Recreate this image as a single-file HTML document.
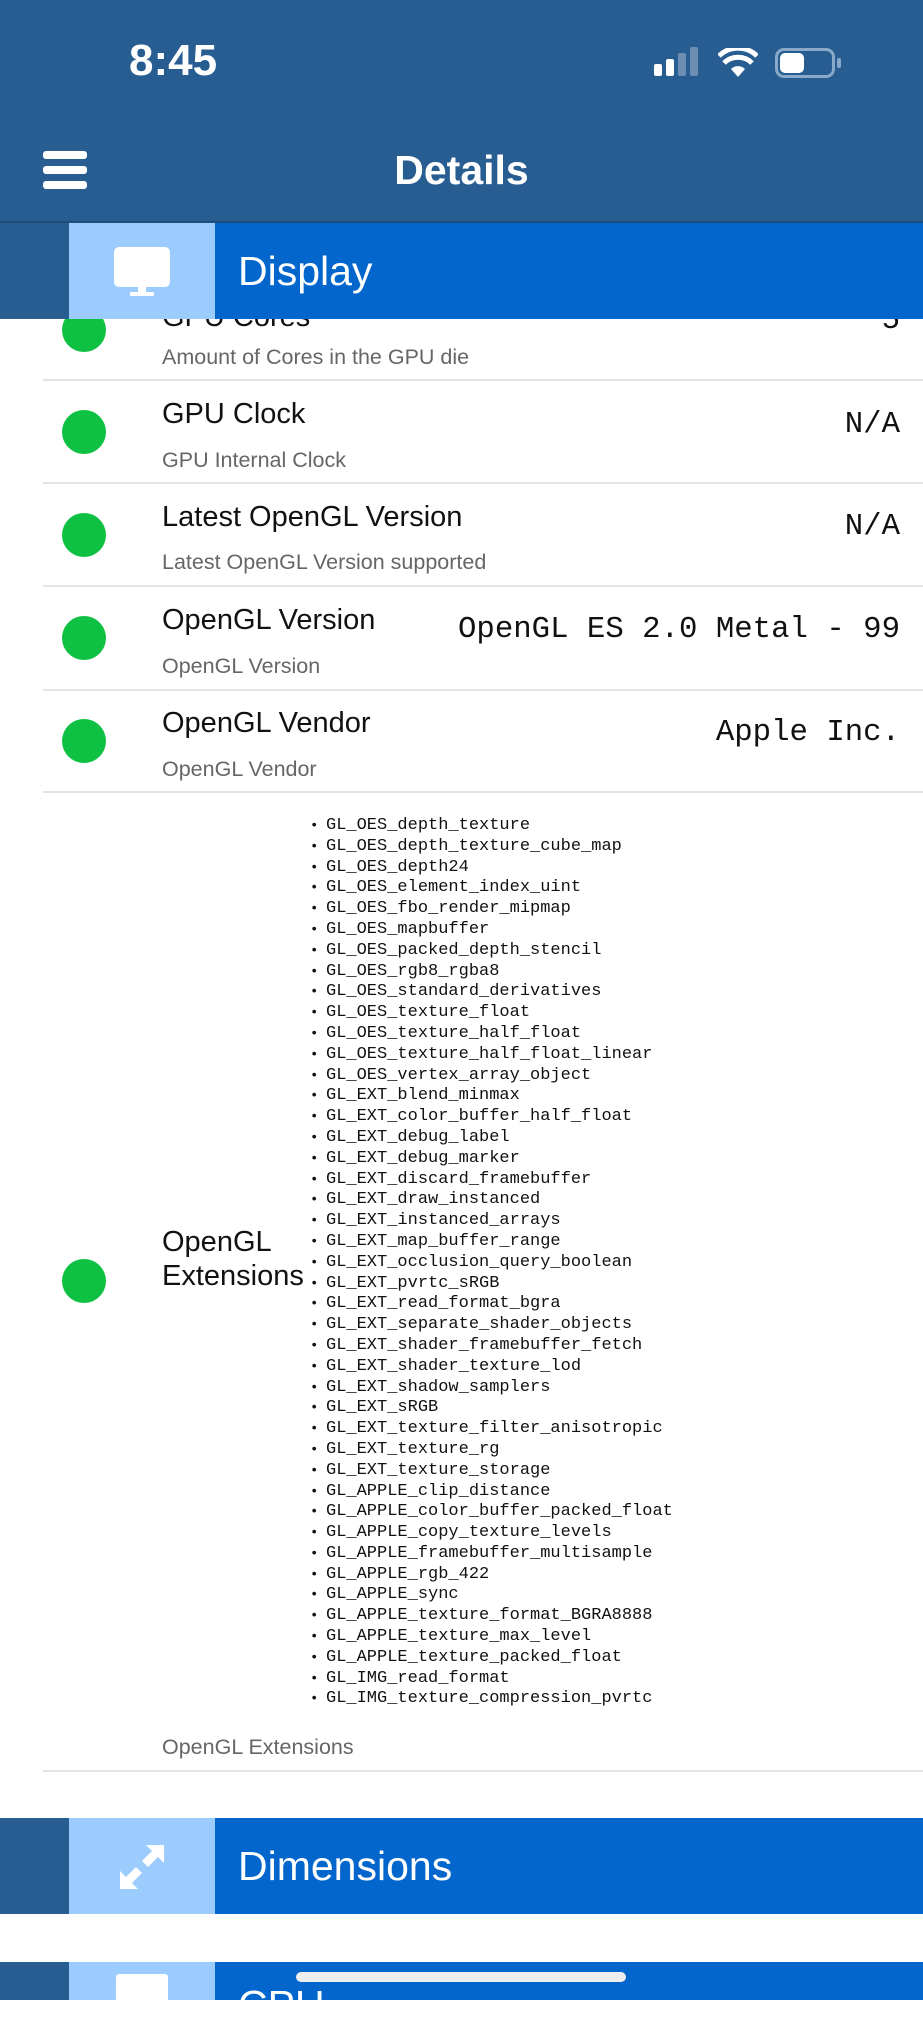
<!DOCTYPE html>
<html><head><meta charset="utf-8"><style>
*{margin:0;padding:0;box-sizing:border-box}
body{width:923px;height:2000px;overflow:hidden;background:#fff;position:relative;font-family:"Liberation Sans",sans-serif}
.a{position:absolute}
.hdr{left:0;top:0;width:923px;height:223px;background:#275d91}
.band{left:0;width:923px;height:96px;background:#0366cc}
.band .d{position:absolute;left:0;top:0;width:69px;height:100%;background:#275d91}
.band .l{position:absolute;left:69px;top:0;width:146px;height:100%;background:#9ccbfd}
.band .t{position:absolute;left:238px;top:0;line-height:96px;color:#fff;font-size:41px;font-weight:300}
.dot{position:absolute;left:62px;width:44px;height:44px;border-radius:50%;background:#0fc142}
.ti{position:absolute;left:162px;font-size:29px;color:#111;line-height:34px}
.su{position:absolute;left:162px;font-size:21.5px;color:#666;line-height:26px}
.dv{position:absolute;left:43px;right:0;height:2px;background:#e4e4e4}
.v{position:absolute;right:23px;font-family:"Liberation Mono",monospace;font-size:30.7px;color:#111;line-height:36px}
ul{position:absolute;left:310px;top:816px;list-style:none;font-family:"Liberation Mono",monospace;font-size:17px;line-height:20.8px;color:#111}
ul li:before{content:"•";display:inline-block;width:16px;font-size:14px;vertical-align:top}
</style></head><body>
<div class="a hdr"></div>
<div class="a" style="left:129px;top:36px;color:#fff;font-size:44px;font-weight:bold">8:45</div>
<div class="a" style="left:654px;top:64px;width:8px;height:12px;background:#fff;border-radius:2px"></div>
<div class="a" style="left:666px;top:59px;width:8px;height:17px;background:#fff;border-radius:2px"></div>
<div class="a" style="left:678px;top:53px;width:8px;height:23px;background:#6e8fb4;border-radius:2px"></div>
<div class="a" style="left:690px;top:47px;width:8px;height:29px;background:#6e8fb4;border-radius:2px"></div>
<svg class="a" style="left:718px;top:48px" width="40" height="30" viewBox="0 0 40 30"><path d="M20 29 L13 21 A10 10 0 0 1 27 21 Z" fill="#fff"/><path d="M6 15 A20 20 0 0 1 34 15" stroke="#fff" stroke-width="5" fill="none"/><path d="M1 8 A27 27 0 0 1 39 8" stroke="#fff" stroke-width="5" fill="none"/></svg>
<div class="a" style="left:775px;top:48px;width:60px;height:30px;border:3px solid #8aa8c8;border-radius:9px"></div>
<div class="a" style="left:780px;top:53px;width:24px;height:20px;background:#fff;border-radius:5px"></div>
<div class="a" style="left:837px;top:58px;width:4px;height:10px;background:#8aa8c8;border-radius:2px"></div>
<div class="a" style="left:43px;top:151px;width:44px;height:8px;background:#fff;border-radius:3px"></div>
<div class="a" style="left:43px;top:166px;width:44px;height:8px;background:#fff;border-radius:3px"></div>
<div class="a" style="left:43px;top:181px;width:44px;height:8px;background:#fff;border-radius:3px"></div>
<div class="a" style="left:0;width:923px;top:147px;text-align:center;color:#fff;font-size:41px;font-weight:bold">Details</div>

<div class="ti" style="top:300px">GPU Cores</div><div class="v" style="top:303px">5</div>
<div class="dot" style="top:308px"></div>
<div class="su" style="top:344px">Amount of Cores in the GPU die</div>
<div class="dv" style="top:379px"></div>

<div class="dot" style="top:410px"></div>
<div class="ti" style="top:397px">GPU Clock</div><div class="v" style="top:407px">N/A</div>
<div class="su" style="top:447px">GPU Internal Clock</div>
<div class="dv" style="top:482px"></div>

<div class="dot" style="top:513px"></div>
<div class="ti" style="top:500px">Latest OpenGL Version</div><div class="v" style="top:509px">N/A</div>
<div class="su" style="top:549px">Latest OpenGL Version supported</div>
<div class="dv" style="top:585px"></div>

<div class="dot" style="top:616px"></div>
<div class="ti" style="top:603px">OpenGL Version</div><div class="v" style="top:612px">OpenGL ES 2.0 Metal - 99</div>
<div class="su" style="top:653px">OpenGL Version</div>
<div class="dv" style="top:689px"></div>

<div class="dot" style="top:719px"></div>
<div class="ti" style="top:706px">OpenGL Vendor</div><div class="v" style="top:715px">Apple Inc.</div>
<div class="su" style="top:756px">OpenGL Vendor</div>
<div class="dv" style="top:791px"></div>

<div class="dot" style="top:1259px"></div>
<div class="ti" style="top:1225px">OpenGL<br>Extensions</div>
<ul>
<li>GL_OES_depth_texture</li><li>GL_OES_depth_texture_cube_map</li><li>GL_OES_depth24</li><li>GL_OES_element_index_uint</li><li>GL_OES_fbo_render_mipmap</li><li>GL_OES_mapbuffer</li><li>GL_OES_packed_depth_stencil</li><li>GL_OES_rgb8_rgba8</li><li>GL_OES_standard_derivatives</li><li>GL_OES_texture_float</li><li>GL_OES_texture_half_float</li><li>GL_OES_texture_half_float_linear</li><li>GL_OES_vertex_array_object</li><li>GL_EXT_blend_minmax</li><li>GL_EXT_color_buffer_half_float</li><li>GL_EXT_debug_label</li><li>GL_EXT_debug_marker</li><li>GL_EXT_discard_framebuffer</li><li>GL_EXT_draw_instanced</li><li>GL_EXT_instanced_arrays</li><li>GL_EXT_map_buffer_range</li><li>GL_EXT_occlusion_query_boolean</li><li>GL_EXT_pvrtc_sRGB</li><li>GL_EXT_read_format_bgra</li><li>GL_EXT_separate_shader_objects</li><li>GL_EXT_shader_framebuffer_fetch</li><li>GL_EXT_shader_texture_lod</li><li>GL_EXT_shadow_samplers</li><li>GL_EXT_sRGB</li><li>GL_EXT_texture_filter_anisotropic</li><li>GL_EXT_texture_rg</li><li>GL_EXT_texture_storage</li><li>GL_APPLE_clip_distance</li><li>GL_APPLE_color_buffer_packed_float</li><li>GL_APPLE_copy_texture_levels</li><li>GL_APPLE_framebuffer_multisample</li><li>GL_APPLE_rgb_422</li><li>GL_APPLE_sync</li><li>GL_APPLE_texture_format_BGRA8888</li><li>GL_APPLE_texture_max_level</li><li>GL_APPLE_texture_packed_float</li><li>GL_IMG_read_format</li><li>GL_IMG_texture_compression_pvrtc</li>
</ul>
<div class="su" style="top:1734px">OpenGL Extensions</div>
<div class="dv" style="top:1770px"></div>

<div class="a band" style="top:223px"><div class="d"></div><div class="l"></div><div class="t">Display</div>
<svg style="position:absolute;left:114px;top:24px" width="56" height="50" viewBox="0 0 56 50"><rect x="0" y="0" width="56" height="40" rx="5" fill="#fff"/><rect x="24" y="40" width="8" height="8" fill="#fff"/><rect x="16" y="45" width="24" height="4" rx="1" fill="#fff"/></svg></div>
<div class="a" style="left:0;top:221px;width:923px;height:2px;background:#1f4e7c"></div>

<div class="a band" style="top:1818px"><div class="d"></div><div class="l"></div><div class="t">Dimensions</div>
<svg style="position:absolute;left:118px;top:25px" width="48" height="48" viewBox="0 0 48 48"><path d="M28 2 H46 V20 L40 14 L30 24 L24 18 L34 8 Z" fill="#fff"/><path d="M20 46 H2 V28 L8 34 L18 24 L24 30 L14 40 Z" fill="#fff"/></svg></div>

<div class="a band" style="top:1962px;height:38px"><div class="d"></div><div class="l"></div>
<div style="position:absolute;left:116px;top:12px;width:52px;height:30px;background:#fff;border-radius:3px"></div>
<div style="position:absolute;left:238px;top:20px;color:#fff;font-size:41px;font-weight:300">CPU</div></div>
<div class="a" style="left:296px;top:1972px;width:330px;height:10px;background:#eee;border-radius:5px"></div>
</body></html>
